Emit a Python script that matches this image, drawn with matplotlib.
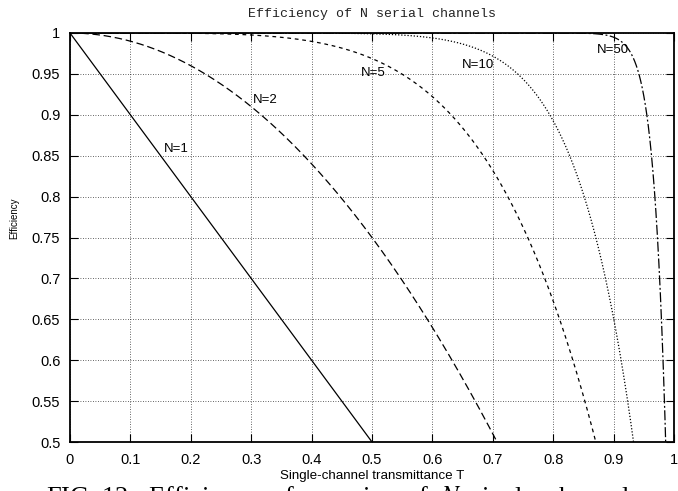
import numpy as np
import matplotlib
matplotlib.use("Agg")
import matplotlib.pyplot as plt

# channel counts and the curve efficiency = 1 - T**N
n_values = [1, 2, 5, 10, 50]
styles = ['-', (0, (6, 3)), (0, (3, 3)), (0, (1, 1.5)), (0, (8, 2, 1.5, 2))]
label_text = ['N=1', 'N=2', 'N=5', 'N=10', 'N=50']
label_x = [0.155, 0.302, 0.481, 0.648, 0.873]
label_y = [0.858, 0.918, 0.951, 0.961, 0.979]

x_ticks = [0, 0.1, 0.2, 0.3, 0.4, 0.5, 0.6, 0.7, 0.8, 0.9, 1]
y_ticks = [0.5, 0.55, 0.6, 0.65, 0.7, 0.75, 0.8, 0.85, 0.9, 0.95, 1]

T = np.linspace(0, 1, 2001)

fig = plt.figure(figsize=(6.78, 4.91), dpi=100)
ax = fig.add_axes([70/678, 1 - 442/491, 604/678, 409/491])

for n, ls in zip(n_values, styles):
    ax.plot(T, 1 - T**n, color='black', linestyle=ls, linewidth=0.9)

for t, x, y in zip(label_text, label_x, label_y):
    ax.text(x, y, t, fontsize=9.5, family='Liberation Sans', ha='left', va='center')

ax.set_xlim(0, 1)
ax.set_ylim(0.5, 1)
ax.set_xticks(x_ticks)
ax.set_yticks(y_ticks)
ax.set_xticklabels([f'{v:g}' for v in x_ticks], family='Liberation Sans', fontsize=10.5)
ax.set_yticklabels([f'{v:g}' for v in y_ticks], family='Liberation Sans', fontsize=10.5)
ax.tick_params(direction='in', top=True, right=True, length=6, width=0.8)
ax.tick_params(axis='x', pad=8)
ax.tick_params(axis='y', pad=7)
ax.grid(True, color='black', linestyle=(0, (1, 2)), linewidth=0.6, alpha=0.8)
for s in ax.spines.values():
    s.set_linewidth(1.3)

fig.text(372/678, 1 - 476/491, 'Single-channel transmittance T', family='Liberation Sans',
         fontsize=9.6, ha='center', va='center')
fig.text(14/678, 1 - 218/491, 'Efficiency', family='Liberation Sans', fontsize=7,
         rotation=90, ha='center', va='center')
fig.text(372/678, 1 - 14/491, 'Efficiency of N serial channels', family='Liberation Mono',
         fontsize=9.5, ha='center', va='center', color='#222222')

# caption partly cut off at the bottom edge
fig.text(46/678, 1 - 484/491, 'FIG. 12:  Efficiency  of  a  series  of  $N$  single  channels',
         family='Liberation Serif', fontsize=19, ha='left', va='top', color='black',
         math_fontfamily='stix')

fig.savefig('out.png', dpi=100)
